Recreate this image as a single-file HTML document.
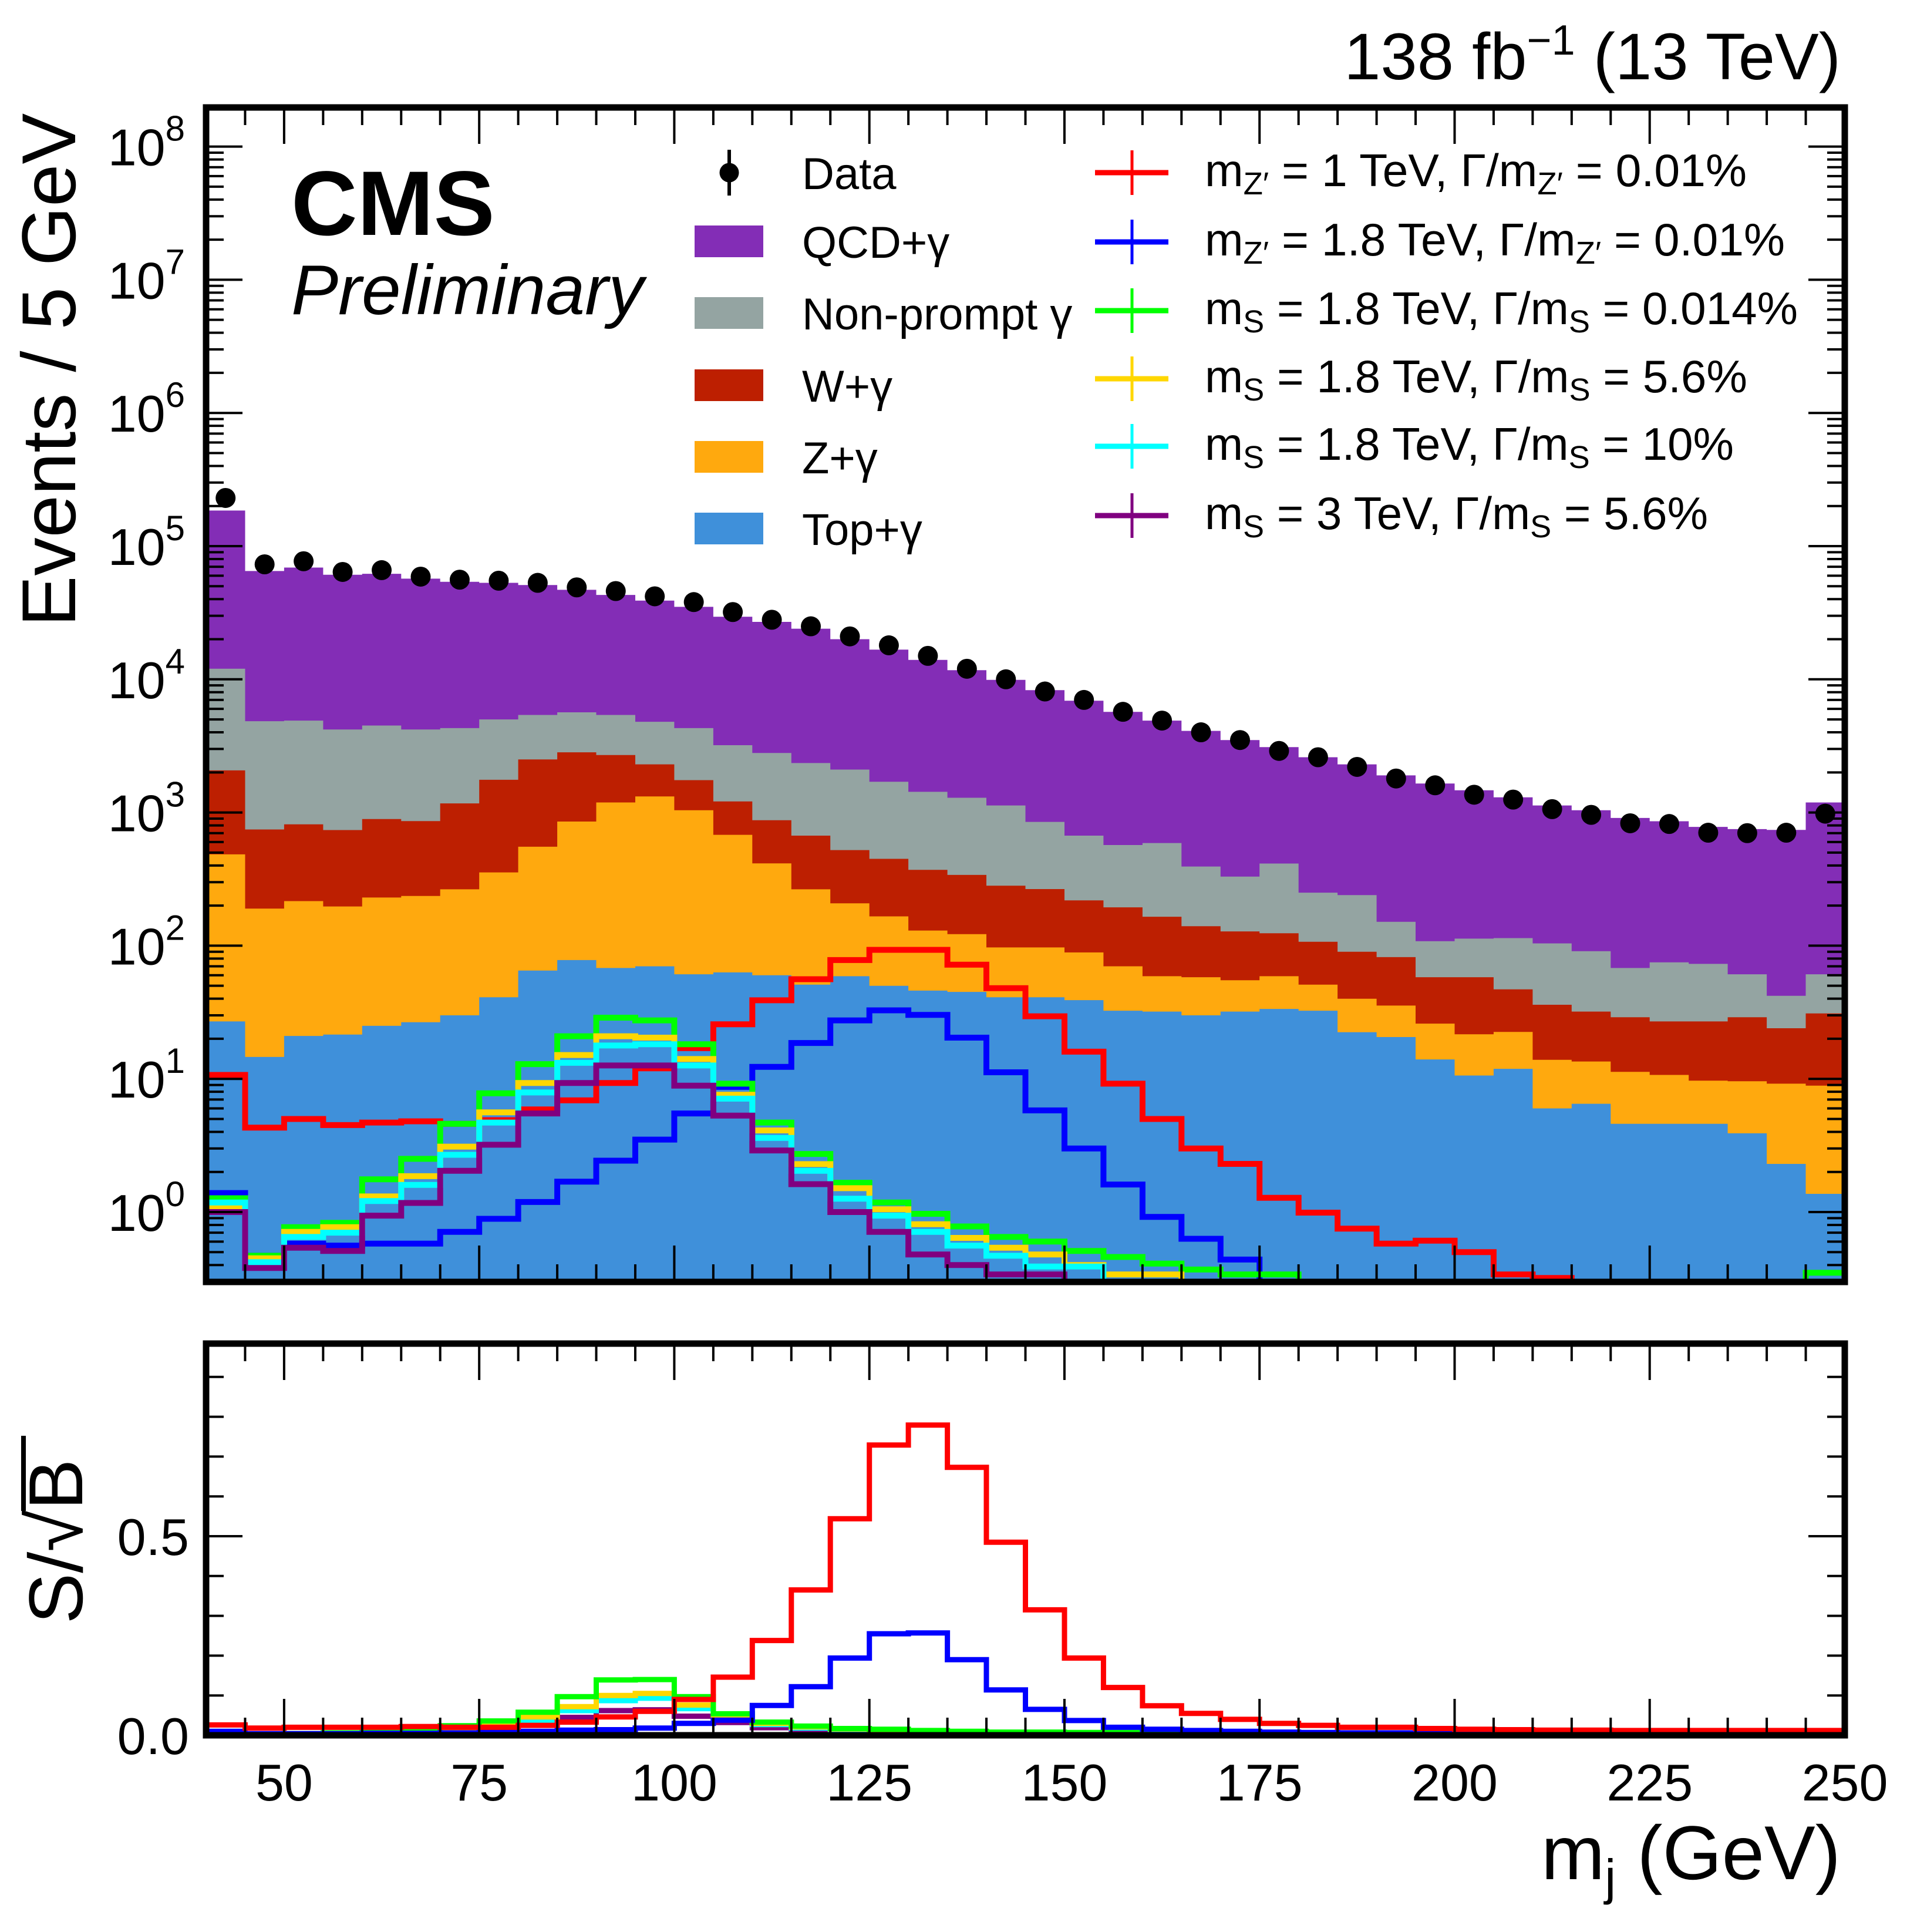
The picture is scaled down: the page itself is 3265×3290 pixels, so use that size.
<!DOCTYPE html>
<html><head><meta charset="utf-8"><style>
html,body{margin:0;padding:0;background:#fff}
svg{display:block}
text{font-family:"Liberation Sans",Arial,sans-serif;fill:#000}
</style></head><body>
<svg id="chart" xmlns="http://www.w3.org/2000/svg" width="3265" height="3290" viewBox="0 0 3265 3290">
<defs>
<clipPath id="mainClip"><rect x="351" y="183" width="2791" height="2000"/></clipPath>
<clipPath id="lowClip"><rect x="351" y="2288" width="2791" height="667"/></clipPath>
</defs>
<rect x="0" y="0" width="3265" height="3290" fill="#fff"/>
<g id="mainStack" clip-path="url(#mainClip)"></g>
<g id="mainSig" clip-path="url(#mainClip)"></g>
<g id="mainData"></g>
<g id="lowSig" clip-path="url(#lowClip)"></g>
<g id="axes"></g>
<g id="legend"></g>

<text x="3135" y="135" font-size="112" text-anchor="end">138 fb<tspan font-size="72" dy="-42">−1</tspan><tspan dy="42"> (13 TeV)</tspan></text>
<text x="496" y="400" font-size="156" font-weight="bold">CMS</text>
<text x="496" y="535" font-size="120" font-style="italic">Preliminary</text>
<text transform="translate(128,630) rotate(-90)" font-size="130" text-anchor="middle">Events / 5 GeV</text>
<g transform="translate(140,2625) rotate(-90)">
<text x="0" y="0" font-size="130" text-anchor="middle">S/√B</text>
<line x1="52" y1="-100" x2="180" y2="-100" stroke="#000" stroke-width="8"/>
</g>
<text x="3135" y="3200" font-size="130" text-anchor="end">m<tspan font-size="85" dy="26">j</tspan><tspan dy="-26"> (GeV)</tspan></text>
</svg>
<script>
// ---- data (42 bins of 5 GeV, 40-250 GeV) ----
const binEdgesStart = 40;
const binWidth = 5;
const dataCounts = [2.3e5,7.3e4,7.7e4,6.4e4,6.6e4,5.9e4,5.6e4,5.5e4,5.3e4,4.9e4,4.6e4,4.2e4,3.8e4,3.2e4,2.8e4,2.5e4,2.1e4,1.8e4,1.5e4,1.2e4,1.0e4,8.1e3,7.0e3,5.7e3,4.9e3,4.0e3,3.5e3,2.9e3,2.6e3,2.2e3,1.8e3,1.6e3,1.36e3,1.25e3,1.06e3,960,830,820,705,700,705,980];
// cumulative stack tops (each layer top = sum of it and all layers below)
const stackTopQCD = [1.85e5,6.5e4,6.9e4,6.1e4,6.2e4,5.7e4,5.4e4,5.3e4,5.1e4,4.7e4,4.3e4,3.9e4,3.5e4,2.95e4,2.7e4,2.4e4,2.0e4,1.67e4,1.4e4,1.17e4,9.9e3,8.3e3,6.9e3,5.7e3,4.9e3,4.1e3,3.5e3,3.1e3,2.6e3,2.3e3,1.9e3,1.65e3,1.47e3,1.3e3,1.13e3,1.04e3,910,860,780,750,740,1.19e3];
const stackTopNonPrompt = [1.2e4,4.85e3,4.9e3,4.2e3,4.5e3,4.2e3,4.3e3,5.0e3,5.4e3,5.65e3,5.4e3,4.8e3,4.3e3,3.2e3,2.8e3,2.35e3,2.1e3,1.7e3,1.43e3,1.29e3,1.13e3,850,670,570,590,393,330,414,250,240,151,108,113,114,104,91,68,75,73,61,42,61];
const stackTopW = [2.07e3,746,815,738,893,861,1.17e3,1.76e3,2.5e3,2.83e3,2.7e3,2.3e3,1.75e3,1.21e3,875,670,522,449,371,340,282,266,219,194,165,140,128,124,107,90,82,58,58,47,36,32,29,27,27,29,24,31];
const stackTopZ = [485,190,216,197,230,236,265,355,553,855,1.19e3,1.32e3,1.04e3,680,415,265,208,166,130,122,97,97,89,70,59,58,55,59,51,40,35.5,26,21.6,22.5,13.9,13.5,11.3,10.7,9.7,9.6,9.2,8.9];
const stackTopTop = [27,14.6,21,21.5,25,26.6,30,41,65,78,68,70,61,63,60,51,59,50,46,45,41,41,39,32.5,32,30,32,33.5,32.5,22.4,20.6,14,10.6,11.9,6.0,6.5,4.6,4.6,4.6,3.9,2.3,1.37];
// signals, main pad
const sigZp1 = [10.7,4.3,5.0,4.5,4.7,4.8,4.6,4.9,5.9,6.9,9.3,12.0,17.0,25.7,38.9,56,78,93,93,72,48,29.5,16.0,9.2,5.0,3.0,2.3,1.28,0.99,0.75,0.58,0.61,0.50,0.34,0.32,0.2,0.2,0.2,0.2,0.2,0.2,0.2];
const sigZp18 = [1.39,0.47,0.58,0.56,0.58,0.58,0.71,0.89,1.19,1.69,2.43,3.5,5.5,8.7,12.3,18.6,27.5,32.7,30.2,20.4,11.2,5.8,3.0,1.61,0.92,0.63,0.44,0.2,0.2,0.2,0.2,0.2,0.2,0.2,0.2,0.2,0.2,0.2,0.2,0.2,0.2,0.2];
const sigS18a = [1.27,0.47,0.77,0.83,1.76,2.51,4.6,7.8,12.9,20.9,28.8,27.5,18.2,9.2,4.7,2.73,1.66,1.18,0.97,0.78,0.65,0.60,0.51,0.46,0.41,0.37,0.34,0.34,0.2,0.2,0.2,0.2,0.2,0.2,0.2,0.2,0.2,0.2,0.2,0.2,0.2,0.35];
const sigS18b = [1.09,0.45,0.71,0.77,1.31,1.86,3.1,5.6,9.3,15.1,20.9,20.4,14.1,7.6,4.1,2.29,1.51,1.05,0.81,0.64,0.54,0.48,0.40,0.34,0.34,0.2,0.2,0.2,0.2,0.2,0.2,0.2,0.2,0.2,0.2,0.2,0.2,0.2,0.2,0.2,0.2,0.2];
const sigS18c = [1.18,0.42,0.65,0.70,1.21,1.60,2.69,4.7,7.9,13.2,17.8,18.2,12.6,7.1,3.6,2.04,1.26,0.94,0.71,0.56,0.47,0.39,0.39,0.2,0.2,0.2,0.2,0.2,0.2,0.2,0.2,0.2,0.2,0.2,0.2,0.2,0.2,0.2,0.2,0.2,0.2,0.2];
const sigS3 = [1.0,0.38,0.54,0.51,0.94,1.17,2.04,3.2,5.5,9.3,12.6,12.6,8.9,5.3,2.9,1.62,1.0,0.71,0.48,0.40,0.34,0.34,0.2,0.2,0.2,0.2,0.2,0.2,0.2,0.2,0.2,0.2,0.2,0.2,0.2,0.2,0.2,0.2,0.2,0.2,0.2,0.2];
// S/sqrt(B), lower pad
const sbZp1 = [0.026,0.018,0.02,0.02,0.02,0.022,0.02,0.02,0.025,0.033,0.046,0.06,0.09,0.146,0.238,0.365,0.544,0.729,0.779,0.673,0.485,0.315,0.194,0.12,0.074,0.055,0.04,0.03,0.025,0.02,0.02,0.017,0.015,0.014,0.013,0.013,0.012,0.012,0.012,0.012,0.012,0.012];
const sbZp18 = [0.01,0.004,0.004,0.004,0.005,0.005,0.006,0.008,0.01,0.013,0.014,0.018,0.03,0.038,0.075,0.122,0.194,0.255,0.257,0.19,0.114,0.065,0.037,0.02,0.015,0.012,0.01,0.008,0.007,0.006,0.006,0.005,0.005,0.005,0.005,0.005,0.005,0.005,0.005,0.005,0.005,0.005];
const sbS18a = [0.003,0.003,0.004,0.006,0.013,0.017,0.024,0.036,0.058,0.097,0.139,0.14,0.097,0.054,0.033,0.023,0.017,0.015,0.012,0.01,0.008,0.008,0.007,0.007,0.006,0.006,0.006,0.005,0.005,0.005,0.005,0.005,0.005,0.005,0.005,0.005,0.005,0.005,0.005,0.005,0.005,0.008];
const sbS18b = [0.003,0.003,0.004,0.005,0.01,0.014,0.018,0.03,0.046,0.072,0.10,0.105,0.076,0.047,0.03,0.021,0.016,0.013,0.01,0.008,0.007,0.006,0.006,0.005,0.005,0.005,0.005,0.005,0.005,0.005,0.005,0.005,0.005,0.005,0.005,0.005,0.005,0.005,0.005,0.005,0.005,0.005];
const sbS18c = [0.003,0.003,0.004,0.005,0.009,0.012,0.017,0.025,0.037,0.062,0.087,0.093,0.067,0.042,0.027,0.018,0.013,0.011,0.009,0.007,0.006,0.006,0.005,0.005,0.005,0.005,0.005,0.005,0.005,0.005,0.005,0.005,0.005,0.005,0.005,0.005,0.005,0.005,0.005,0.005,0.005,0.005];
const sbS3 = [0.003,0.003,0.004,0.005,0.008,0.013,0.014,0.016,0.026,0.045,0.062,0.064,0.048,0.032,0.019,0.014,0.01,0.008,0.007,0.006,0.005,0.005,0.005,0.005,0.005,0.005,0.005,0.005,0.005,0.005,0.005,0.005,0.005,0.005,0.005,0.005,0.005,0.005,0.005,0.005,0.005,0.005];
const xTickLabels = ["50","75","100","125","150","175","200","225","250"];
const yTickExponents = [0,1,2,3,4,5,6,7,8];
const lowTickLabels = ["0.0","0.5"];

// ---- axes functions ----
const X0=351, X1=3142, MAIN_T=183, MAIN_B=2183, LOW_T=2288, LOW_B=2955;
const xScale = m => X0 + (m-40)*(X1-X0)/210;
const Y_DEC0 = 2064, DEC = 226.8;
const yMain = v => Y_DEC0 - DEC*Math.log10(Math.max(v,1e-3));
const yLow = v => LOW_B - v*678;
const NS='http://www.w3.org/2000/svg';
function mk(tag, attrs, parent){const e=document.createElementNS(NS,tag);for(const k in attrs)e.setAttribute(k,attrs[k]);parent.appendChild(e);return e;}
const binLo = i => binEdgesStart + i*binWidth;

function stepPath(vals, yf){
  let d='';
  vals.forEach((v,i)=>{const xa=xScale(binLo(i)), xb=xScale(binLo(i)+binWidth), y=yf(v);
    d += (i===0?'M':'L')+xa.toFixed(1)+','+y.toFixed(1)+' L'+xb.toFixed(1)+','+y.toFixed(1)+' ';});
  return d;
}
function fillPath(vals){
  return stepPath(vals,yMain)+'L'+xScale(binLo(vals.length)).toFixed(1)+','+(MAIN_B+50)+' L'+X0+','+(MAIN_B+50)+' Z';
}

// stack
const gS=document.getElementById('mainStack');
[[stackTopQCD,'#832db6','stack-qcd-gamma'],[stackTopNonPrompt,'#94a4a2','stack-nonprompt-gamma'],[stackTopW,'#bd1f01','stack-w-gamma'],[stackTopZ,'#ffa90e','stack-z-gamma'],[stackTopTop,'#3f90da','stack-top-gamma']].forEach(([vals,col,name])=>{
  const p=mk('path',{d:fillPath(vals),fill:col,stroke:'none'},gS);
  
  
});
// signals main
const gM=document.getElementById('mainSig');
const sigDefs=[[sigZp1,sbZp1,'#ff0000','zprime-1tev'],[sigZp18,sbZp18,'#0000ff','zprime-1p8tev'],[sigS18a,sbS18a,'#00ff00','scalar-1p8tev-0p014'],[sigS18b,sbS18b,'#ffd700','scalar-1p8tev-5p6'],[sigS18c,sbS18c,'#00ffff','scalar-1p8tev-10'],[sigS3,sbS3,'#800080','scalar-3tev-5p6']];
sigDefs.forEach(([vals,sb,col,name])=>{
  const p=mk('path',{d:stepPath(vals,yMain),fill:'none',stroke:col,'stroke-width':10,'stroke-linejoin':'miter'},gM);
  
  
});
const gL=document.getElementById('lowSig');
sigDefs.slice().reverse().forEach(([vals,sb,col,name])=>{
  const p=mk('path',{d:stepPath(sb,yLow),fill:'none',stroke:col,'stroke-width':9},gL);
  
  
});
// data
const gD=document.getElementById('mainData');
dataCounts.forEach((v,i)=>{
  const cx=xScale(binLo(i)+binWidth/2), cy=yMain(v);
  const c=mk('circle',{cx:cx,cy:cy,r:17,fill:'#000'},gD);
  
  
});

// axes
const gA=document.getElementById('axes');
function line(x1,y1,x2,y2,w){return mk('line',{x1,y1,x2,y2,stroke:'#000','stroke-width':w},gA);}
for(let m=40;m<=250;m+=5){
  const x=xScale(m), major=(m%25===0);
  const L=major?62:30;
  [[MAIN_T,1],[MAIN_B,-1],[LOW_T,1],[LOW_B,-1]].forEach(([y,s])=>line(x,y,x,y+s*L,4));
}
for(let e=-1;e<=8;e++){
  for(let k=1;k<10;k++){
    const v=k*Math.pow(10,e); const y=yMain(v);
    if(y<MAIN_T||y>MAIN_B) continue;
    const L=(k===1)?62:30;
    line(X0,y,X0+L,y,4); line(X1,y,X1-L,y,4);
  }
}
yTickExponents.forEach(e=>{
  const y=yMain(Math.pow(10,e));
  const t=mk('text',{x:315,y:y+32,'font-size':88,'text-anchor':'end'},gA);
  
  
  t.innerHTML='10<tspan font-size="60" dy="-42">'+e+'</tspan>';
});
for(let k=0;k<=9;k++){
  const v=k*0.1, y=yLow(v); const L=(k%5===0)?62:30;
  line(X0,y,X0+L,y,4); line(X1,y,X1-L,y,4);
}
lowTickLabels.forEach(s=>{
  const t=mk('text',{x:322,y:yLow(parseFloat(s))+32,'font-size':88,'text-anchor':'end'},gA);
  
  
  t.textContent=s;
});
xTickLabels.forEach(s=>{
  const t=mk('text',{x:xScale(parseFloat(s)),y:3066,'font-size':88,'text-anchor':'middle'},gA);
  
  
  t.textContent=s;
});
const f1=mk('rect',{x:X0,y:MAIN_T,width:X1-X0,height:MAIN_B-MAIN_T,fill:'none',stroke:'#000','stroke-width':11},gA);


const f2=mk('rect',{x:X0,y:LOW_T,width:X1-X0,height:LOW_B-LOW_T,fill:'none',stroke:'#000','stroke-width':11},gA);



// legend
const gLg=document.getElementById('legend');
const leftEntries=[['Data',null,294],['QCD+γ','#832db6',411],['Non-prompt γ','#94a4a2',533],['W+γ','#bd1f01',656],['Z+γ','#ffa90e',778],['Top+γ','#3f90da',900]];
leftEntries.forEach(([lab,col,y])=>{
  const g=mk('g',{},gLg);
  
  
  if(col===null){
    mk('line',{x1:1242,y1:y-39,x2:1242,y2:y+39,stroke:'#000','stroke-width':6},g);
    mk('circle',{cx:1242,cy:y,r:16.5,fill:'#000'},g);
  } else {
    mk('rect',{x:1183,y:y-27,width:117,height:54,fill:col},g);
  }
  const t=mk('text',{x:1366,y:y+28,'font-size':76},g);
  t.textContent=lab;
});
const rightEntries=[
 ['#ff0000',294,'Z′','1 TeV','0.01%',2975],
 ['#0000ff',412,'Z′','1.8 TeV','0.01%',3040],
 ['#00ff00',529,'S','1.8 TeV','0.014%',3062],
 ['#ffd700',645,'S','1.8 TeV','5.6%',2976],
 ['#00ffff',760,'S','1.8 TeV','10%',2953],
 ['#800080',878,'S','3 TeV','5.6%',2909]];
rightEntries.forEach(([col,y,sub,mass,w,xe])=>{
  const g=mk('g',{},gLg);
  
  
  mk('line',{x1:1865,y1:y,x2:1990,y2:y,stroke:col,'stroke-width':9},g);
  mk('line',{x1:1928,y1:y-38,x2:1928,y2:y+38,stroke:col,'stroke-width':5},g);
  const t=mk('text',{x:2052,y:y+23,'font-size':78,textLength:xe-2052,lengthAdjust:'spacingAndGlyphs'},g);
  t.innerHTML='m<tspan font-size="54" dy="14">'+sub+'</tspan><tspan dy="-14"> = '+mass+',  Γ/m</tspan><tspan font-size="54" dy="14">'+sub+'</tspan><tspan dy="-14"> = '+w+'</tspan>';
});
</script>
</body></html>
